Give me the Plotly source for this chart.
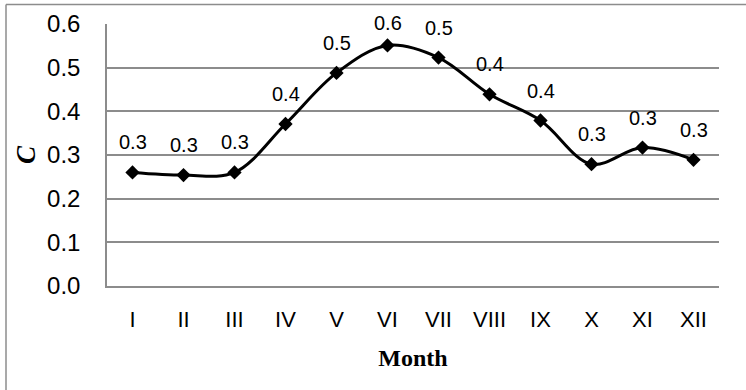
import plotly.graph_objects as go

# Monthly values of C
months = ["I", "II", "III", "IV", "V", "VI", "VII", "VIII", "IX", "X", "XI", "XII"]
c_values = [0.260, 0.254, 0.260, 0.371, 0.488, 0.551, 0.523, 0.439, 0.379, 0.279, 0.317, 0.289]
y_ticks = [0.0, 0.1, 0.2, 0.3, 0.4, 0.5, 0.6]

W, H = 746, 390
ML, MR, MT, MB = 107, 27, 24, 104
plot_w = W - ML - MR
plot_h = H - MT - MB
y_min, y_max = 0.0, 0.6

sans = "Liberation Sans, Arial, sans-serif"
serif = "Liberation Serif, Times New Roman, serif"

fig = go.Figure()
fig.add_trace(go.Scatter(
    x=months, y=c_values,
    mode="lines+markers",
    line=dict(color="black", width=3, shape="spline", smoothing=1.0),
    marker=dict(symbol="diamond", size=11, color="black"),
    hoverinfo="x+y",
    showlegend=False,
))

# Data labels rounded to one decimal, placed above each point
label_font = dict(family=sans, size=20, color="black")
for m, v in zip(months, c_values):
    px_y = MT + (y_max - v) / (y_max - y_min) * plot_h
    shift = min(30, px_y - 23)
    fig.add_annotation(
        x=m, y=v, text=f"{v:.1f}", showarrow=False,
        yshift=shift, xanchor="center", yanchor="middle", font=label_font,
    )

# Chart-area frame (left and top edges)
frame_color = "#8c8c8c"
x_left = (6 - ML) / plot_w
x_right = (W + 5 - ML) / plot_w
y_top = 1 + (MT - 4.5) / plot_h
y_bottom = -(MB + 5) / plot_h
fig.add_shape(type="line", xref="paper", yref="paper",
              x0=x_left, x1=x_right, y0=y_top, y1=y_top,
              line=dict(color=frame_color, width=1.5))
fig.add_shape(type="line", xref="paper", yref="paper",
              x0=x_left, x1=x_left, y0=y_bottom, y1=y_top,
              line=dict(color=frame_color, width=1.5))

fig.update_layout(
    width=W, height=H,
    margin=dict(l=ML, r=MR, t=MT, b=MB, autoexpand=False),
    paper_bgcolor="white", plot_bgcolor="white",
    xaxis=dict(
        type="category", categoryorder="array", categoryarray=months,
        showgrid=False, showline=True, linecolor=frame_color, linewidth=1.5,
        ticks="", ticklabelstandoff=13, automargin=False,
        tickfont=dict(family=sans, size=22, color="black"),
        title=dict(text="<b>Month</b>", standoff=18,
                   font=dict(family=serif, size=24, color="black")),
        range=[-0.5, 11.5], fixedrange=True,
    ),
    yaxis=dict(
        range=[y_min, y_max], tickvals=y_ticks, ticktext=[f"{t:.1f}" for t in y_ticks],
        showgrid=True, gridcolor=frame_color, gridwidth=1.5,
        showline=True, linecolor=frame_color, linewidth=1.5,
        zeroline=False, ticks="", ticklabelstandoff=20, automargin=False,
        tickfont=dict(family=sans, size=24, color="black"),
        title=dict(text="<b><i>C</i></b>", standoff=4,
                   font=dict(family=serif, size=27, color="black")),
        fixedrange=True,
    ),
)

fig.write_html("out.html")
